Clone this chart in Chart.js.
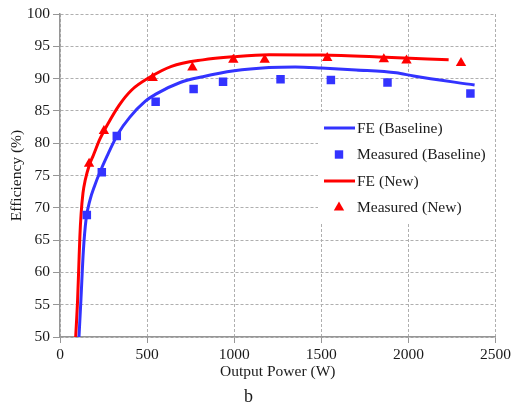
<!DOCTYPE html>
<html>
<head>
<meta charset="utf-8">
<script src="https://cdn.jsdelivr.net/npm/chart.js@4.4.1/dist/chart.umd.min.js"></script>
<style>
  html, body { margin: 0; padding: 0; background: #fff; }
  #wrap { width: 514px; height: 409px; }
</style>
</head>
<body>
<div id="wrap"><canvas id="c" width="514" height="409"></canvas></div>
<script>
// ---- data ----
const measBaseX = [154, 240, 326, 549, 767, 936, 1266, 1555, 1880, 2356];
const measBaseY = [68.9, 75.5, 81.1, 86.4, 88.4, 89.5, 89.9, 89.8, 89.4, 87.7];
const measNewX  = [167, 252, 532, 760, 995, 1175, 1534, 1859, 1989, 2302];
const measNewY  = [76.8, 81.9, 90.1, 91.7, 92.9, 92.9, 93.2, 93.0, 92.8, 92.4];

const feBaseX = [109, 120, 134, 150, 172, 200, 229, 270, 334, 400, 490, 550, 690, 820, 1000, 1200, 1350, 1500, 1700, 1930, 2030, 2380];
const feBaseY = [50, 55.7, 63.3, 68.3, 71.2, 73.5, 75.5, 78.0, 81.5, 84.0, 86.5, 87.6, 89.4, 90.3, 91.2, 91.7, 91.8, 91.65, 91.35, 90.9, 90.4, 89.0];
const feNewX  = [90, 101, 108, 114, 121, 132, 145, 168, 191, 230, 277, 340, 410, 515, 640, 820, 1000, 1200, 1500, 1870, 2231];
const feNewY  = [50, 55.7, 61, 65.5, 69, 72.3, 74.3, 76.6, 78.1, 80.7, 83.1, 85.9, 88.2, 90.2, 91.9, 92.9, 93.4, 93.7, 93.65, 93.3, 92.9];

const seriesLabels = ['FE (Baseline)', 'Measured (Baseline)', 'FE (New)', 'Measured (New)'];
const xTitle = 'Output Power (W)';
const yTitle = 'Efficiency (%)';
const subTitle = 'b';

const pts = (xs, ys) => xs.map((x, i) => ({ x: x, y: ys[i] }));

const BLUE = 'rgb(51,51,255)';
const RED = 'rgb(255,0,0)';
const FONT = "'Liberation Serif', 'Times New Roman', serif";

const insetLegend = {
  id: 'insetLegend',
  afterDatasetsDraw(chart) {
    const ctx = chart.ctx;
    const ds = chart.data.datasets;
    ctx.save();
    ctx.fillStyle = '#ffffff';
    ctx.fillRect(318, 112, 176, 111);
    const rowY = [128, 154.5, 181, 207.5];
    ctx.font = "15.5px " + FONT;
    ctx.textBaseline = 'middle';
    ctx.textAlign = 'left';
    ds.forEach((d, i) => {
      const y = rowY[i];
      if (d.showLine) {
        ctx.strokeStyle = d.borderColor;
        ctx.lineWidth = 3;
        ctx.beginPath();
        ctx.moveTo(324, y);
        ctx.lineTo(355, y);
        ctx.stroke();
      } else {
        ctx.fillStyle = d.backgroundColor;
        const cx = 339;
        if (d.pointStyle === 'rect') {
          ctx.fillRect(cx - 4.2, y - 4.2, 8.4, 8.4);
        } else {
          const r = 6;
          ctx.beginPath();
          ctx.moveTo(cx, y - r);
          ctx.lineTo(cx + r * 0.866, y + r / 2);
          ctx.lineTo(cx - r * 0.866, y + r / 2);
          ctx.closePath();
          ctx.fill();
        }
      }
      ctx.fillStyle = '#1a1a1a';
      ctx.fillText(d.label, 357, y + 0.5);
    });
    ctx.restore();
  }
};

new Chart(document.getElementById('c'), {
  type: 'scatter',
  data: {
    datasets: [
      {
        label: seriesLabels[0], data: pts(feBaseX, feBaseY), showLine: true,
        borderColor: BLUE, backgroundColor: BLUE, borderWidth: 3, pointRadius: 0,
        cubicInterpolationMode: 'monotone', order: 2
      },
      {
        label: seriesLabels[1], data: pts(measBaseX, measBaseY), showLine: false,
        pointStyle: 'rect', pointRadius: 6, borderWidth: 0,
        backgroundColor: BLUE, borderColor: BLUE, order: 1
      },
      {
        label: seriesLabels[2], data: pts(feNewX, feNewY), showLine: true,
        borderColor: RED, backgroundColor: RED, borderWidth: 3, pointRadius: 0,
        cubicInterpolationMode: 'monotone', order: 2
      },
      {
        label: seriesLabels[3], data: pts(measNewX, measNewY), showLine: false,
        pointStyle: 'triangle', pointRadius: 6, borderWidth: 0,
        backgroundColor: RED, borderColor: RED, order: 0
      }
    ]
  },
  options: {
    responsive: false,
    animation: false,
    events: [],
    layout: { padding: { left: 0, right: 17, top: 14, bottom: 0 } },
    plugins: {
      legend: { display: false },
      tooltip: { enabled: false },
      title: {
        display: true, position: 'bottom', text: subTitle, color: '#1a1a1a',
        font: { family: FONT, size: 18, weight: 'normal', lineHeight: 1.2 },
        padding: { top: 4, bottom: 1 }
      }
    },
    scales: {
      x: {
        type: 'linear', min: 0, max: 2500,
        ticks: { stepSize: 500, color: '#1a1a1a', padding: 3, maxRotation: 0,
                 font: { family: FONT, size: 15.5 },
                 callback: (v) => String(v) },
        grid: { color: 'rgb(175,175,175)', lineWidth: 1, tickLength: 6,
                tickColor: 'rgb(150,150,150)', tickBorderDash: [] },
        border: { display: true, color: 'rgb(150,150,150)', width: 1.5, dash: [3, 2] },
        title: { display: true, text: xTitle, color: '#1a1a1a',
                 font: { family: FONT, size: 15.5, lineHeight: 1.2 },
                 padding: { top: 0, bottom: 1 } },
        afterFit(s) { s.height = 45.4; }
      },
      y: {
        type: 'linear', min: 50, max: 100,
        ticks: { stepSize: 5, color: '#1a1a1a', padding: 3,
                 font: { family: FONT, size: 15.5 },
                 callback: (v) => String(v) },
        grid: { color: 'rgb(175,175,175)', lineWidth: 1, tickLength: 7,
                tickColor: 'rgb(150,150,150)', tickBorderDash: [] },
        border: { display: true, color: 'rgb(150,150,150)', width: 1.5, dash: [3, 2] },
        title: { display: true, text: yTitle, color: '#1a1a1a',
                 font: { family: FONT, size: 15.5, lineHeight: 1.2 },
                 padding: { top: 7.7, bottom: 0 } },
        afterFit(s) { s.width = 60; }
      }
    }
  },
  plugins: [insetLegend]
});
</script>
</body>
</html>
